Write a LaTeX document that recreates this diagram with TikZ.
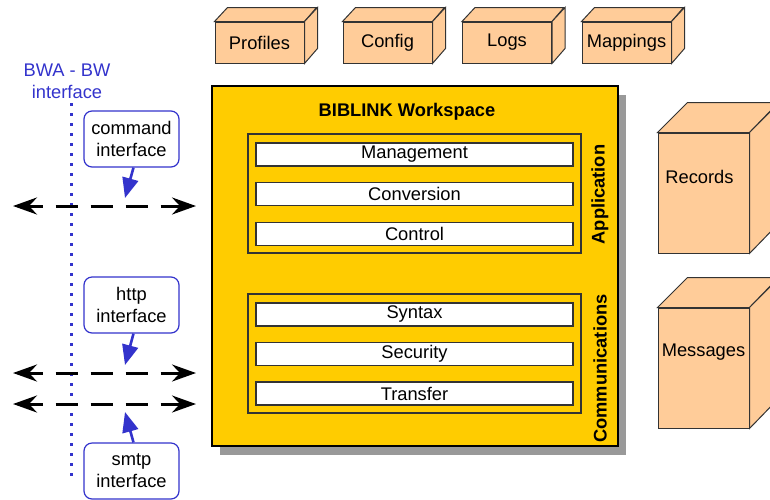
\documentclass[tikz,border=0pt]{standalone}
\usepackage{fontspec}
\setmainfont{Liberation Sans}
\usetikzlibrary{arrows.meta,calc,shadows}
\definecolor{peach}{HTML}{FFCC99}
\definecolor{gold}{HTML}{FFCC00}
\definecolor{ifblue}{HTML}{3333CC}
\newcommand\boxfont{\fontsize{18.3}{22}\selectfont}
\tikzset{
  crate/.style  ={draw=black!80,fill=peach,line width=1pt,font=\boxfont,inner sep=0pt},
  ws/.style     ={draw=black,fill=gold,line width=1.2pt,minimum width=406pt,minimum height=360pt,
                  drop shadow={shadow xshift=8pt,shadow yshift=-9pt,fill=black!40,opacity=1}},
  grp/.style    ={draw=black!80,line width=1.2pt,minimum width=333pt,minimum height=119pt},
  layer/.style  ={draw=black!80,fill=white,line width=1.5pt,minimum width=317pt,minimum height=23pt,
                  inner sep=0pt,font=\boxfont},
  side/.style   ={font=\boxfont\bfseries,rotate=90,inner sep=0pt},
  callout/.style={draw=ifblue,fill=white,rounded corners=8pt,line width=1.2pt,align=center,
                  font=\boxfont,minimum width=95pt,minimum height=56pt,inner sep=0pt},
  ptr/.style    ={ifblue,line width=2.6pt,-{Triangle[length=20pt,width=16pt]}},
  wire/.style   ={line width=3pt,dash pattern=on 22pt off 13pt,dash phase=7pt,
                  {Stealth[length=24pt,width=17pt,inset=8pt]}-{Stealth[length=24pt,width=17pt,inset=8pt]}},
  border/.style ={ifblue,line width=3pt,dash pattern=on 3pt off 7pt},
  lbl/.style    ={font=\boxfont,inner sep=0pt},
}
\begin{document}
\begin{tikzpicture}[x=1pt,y=-1pt]
  \useasboundingbox (0,0) rectangle (770,499);
  % stores on top
  \foreach \n/\cx/\t in {prof/259.5/Profiles,conf/387.5/Config,logs/507/Logs,map/626.5/Mappings}{
    \node[crate,minimum width=89pt,minimum height=41pt] (\n) at (\cx,42.5) {\t};
    \draw[crate] (\n.north west) -- ++(13,-14) -- ++(89,0) -- (\n.north east) -- cycle;
    \draw[crate] (\n.north east) -- ++(13,-14) -- ++(0,41) -- (\n.south east) -- cycle;
  }
  % stores on the right
  \foreach \n/\cy/\dx/\t in {rec/193/-4/Records,msg/368/0/Messages}{
    \node[crate,minimum width=91pt,minimum height=120pt] (\n) at (703.5,\cy) {};
    \draw[crate] (\n.north west) -- ++(30,-30) -- ++(91,0) -- (\n.north east) -- cycle;
    \draw[crate] (\n.north east) -- ++(30,-30) -- ++(0,120) -- (\n.south east) -- cycle;
    \node[lbl] (\n t) at ([xshift=\dx pt,yshift=16pt]\n.center) {\t};
  }
  \node[ws] (ws) at (415,266) {};
  \node[lbl,font=\boxfont\bfseries] (title) at (407,112) {BIBLINK Workspace};
  \node[grp] (app) at (414.5,193.5) {};
  \node[grp] (comm) at (414.5,353.5) {};
  \foreach \n/\cy/\t in {mgmt/154.5/Management,conv/194/Conversion,ctrl/234/Control,
                         syn/314.5/Syntax,sec/354/Security,xfer/393.5/Transfer}
    \node[layer] (\n) at (414.5,\cy) {\t};
  \node[side] (appl) at (600,194.5) {Application};
  \node[side] (comml) at (600,368.5) {Communications};
  % interface side
  \node[lbl,text=ifblue,align=center] (bwa) at (67,81.5) {BWA - BW\\interface};
  \coordinate (dtop) at (71,103);
  \coordinate (dbot) at (71,482);
  \draw[border] (dtop) -- (dbot);
  \foreach \n/\y in {w1/206,w2/373,w3/404}{
    \coordinate (\n l) at (13,\y);
    \coordinate (\n r) at (196,\y);
    \draw[wire] (\n l) -- (\n r);
  }
  \node[callout] (cmd) at (131.5,139) {command\\interface};
  \node[callout] (http) at (131.5,305) {http\\interface};
  \node[callout] (smtp) at (131.5,471) {smtp\\interface};
  \coordinate (t1) at (125,198);
  \coordinate (t2) at (125,365);
  \coordinate (t3) at (125,412);
  \draw[ptr] ([xshift=2pt]cmd.south) -- (t1);
  \draw[ptr] ([xshift=2pt]http.south) -- (t2);
  \draw[ptr] ([xshift=2pt]smtp.north) -- (t3);
\end{tikzpicture}
\end{document}
